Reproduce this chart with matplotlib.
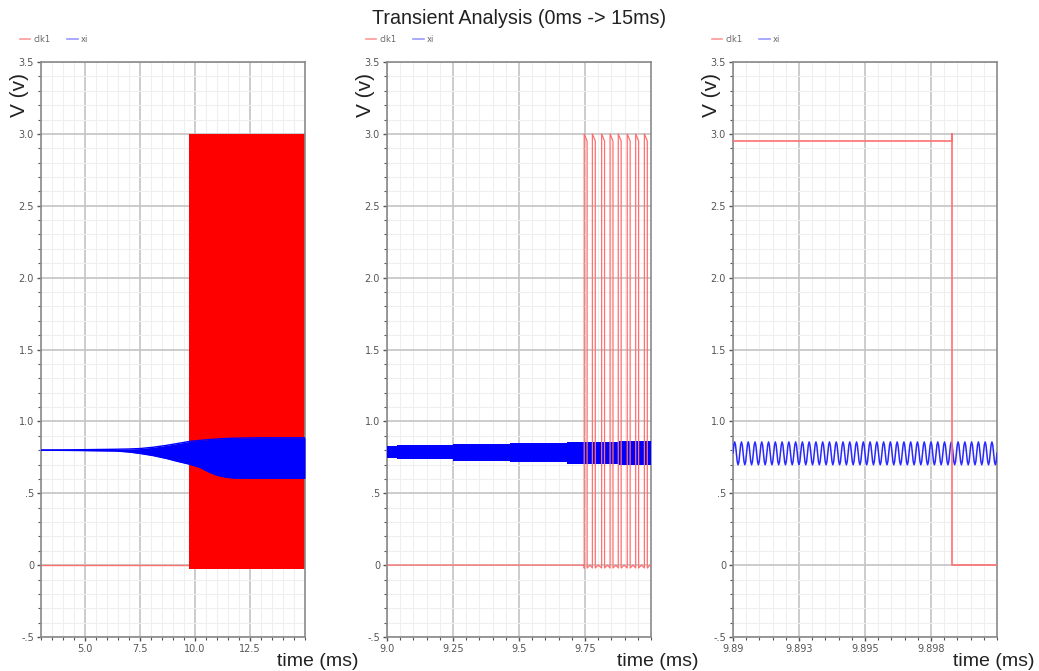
import numpy as np
import matplotlib.pyplot as plt
from matplotlib.ticker import FixedLocator, MultipleLocator

# ---- data ----
y_ticks = [-0.5, 0.0, 0.5, 1.0, 1.5, 2.0, 2.5, 3.0, 3.5]
y_labels = ['-.5', '0', '.5', '1.0', '1.5', '2.0', '2.5', '3.0', '3.5']

# panel 1 : 3 -> 15 ms
p1_xlim = (3.0, 15.0)
p1_ticks = [5.0, 7.5, 10.0, 12.5]
p1_labels = ['5.0', '7.5', '10.0', '12.5']
p1_clk_start = 9.73
p1_clk_hi = 3.0
p1_clk_lo = -0.025
p1_xi_t = [3.0, 4.9, 6.4, 7.0, 7.5, 8.1, 8.7, 9.2, 9.73, 10.23, 10.6, 10.98, 11.4, 11.74, 13.0, 15.0]
p1_xi_top = [0.800, 0.803, 0.806, 0.808, 0.811, 0.820, 0.833, 0.846, 0.860, 0.868, 0.873, 0.877, 0.881, 0.883, 0.886, 0.886]
p1_xi_bot = [0.800, 0.797, 0.794, 0.787, 0.777, 0.762, 0.742, 0.722, 0.703, 0.680, 0.650, 0.626, 0.612, 0.606, 0.604, 0.604]

# panel 2 : 9.0 -> 10.0 ms
p2_xlim = (9.0, 10.0)
p2_ticks = [9.0, 9.25, 9.5, 9.75]
p2_labels = ['9.0', '9.25', '9.5', '9.75']
p2_xi_t = [9.0, 9.037, 9.25, 9.465, 9.68, 9.88, 10.0]
p2_xi_top = [0.832, 0.838, 0.843, 0.849, 0.855, 0.861, 0.861]
p2_xi_bot = [0.742, 0.735, 0.727, 0.720, 0.705, 0.695, 0.695]
p2_pulse_rise = [9.747, 9.778, 9.813, 9.845, 9.876, 9.910, 9.942, 9.975]
p2_pulse_width = 0.011
p2_pulse_peak = 3.0
p2_pulse_top = 2.95
p2_pulse_low = -0.02

# panel 3 : 9.89 -> 9.90 ms
p3_xlim = (9.89, 9.90)
p3_ticks = [9.89, 9.8925, 9.895, 9.8975]
p3_labels = ['9.89', '9.893', '9.895', '9.898']
p3_clk_t = [9.89, 9.8983, 9.8983, 9.8983, 9.90]
p3_clk_v = [2.95, 2.95, 3.0, 0.0, 0.0]
p3_xi_cycle = [0.78, 0.835, 0.857, 0.835, 0.78, 0.72, 0.698, 0.72]
p3_xi_cycles = 39

red = '#ff0000'
red_line = '#ff7070'
blue = '#0000ff'
label_font = 'Liberation Sans'

fig = plt.figure(figsize=(10.39, 6.71), dpi=100)
fig.text(0.5, 0.973, 'Transient Analysis (0ms -> 15ms)', ha='center', va='center',
         fontsize=14.2, color='#222222', family=label_font)

lefts = [41, 387, 733]
xlabel_pos = [0.894, 0.871, 0.833]
axes = []
for l in lefts:
    ax = fig.add_axes([l / 1039, 1 - 637 / 671, 264 / 1039, 575 / 671])
    axes.append(ax)


def style(ax, xlim, ticks, labels, minor, xlab_x):
    ax.set_xlim(*xlim)
    ax.set_ylim(-0.5, 3.5)
    ax.xaxis.set_major_locator(FixedLocator(ticks))
    ax.set_xticklabels(labels)
    ax.xaxis.set_minor_locator(MultipleLocator(minor))
    ax.yaxis.set_major_locator(FixedLocator(y_ticks))
    ax.set_yticklabels(y_labels)
    ax.yaxis.set_minor_locator(MultipleLocator(0.1))
    ax.grid(which='major', color='#c4c4c4', lw=1.2, zorder=0)
    ax.grid(which='minor', color='#efefef', lw=0.8, zorder=0)
    ax.set_axisbelow(True)
    for s in ax.spines.values():
        s.set_color('#8a8a8a')
        s.set_linewidth(1.2)
    ax.tick_params(which='major', length=3, width=1, color='#555555',
                   labelsize=7, labelcolor='#555555', pad=2)
    ax.tick_params(which='minor', length=2, width=0.8, color='#555555')
    ax.text(-0.08, 0.943, 'V (v)', transform=ax.transAxes, rotation=90,
            ha='center', va='center', fontsize=15, color='#222222',
            family=label_font)
    ax.text(xlab_x, -0.042, 'time (ms)', transform=ax.transAxes,
            ha='left', va='center', fontsize=14, color='#222222',
            family=label_font)
    # legend above axes
    ax.plot([-0.08, -0.04], [1.04, 1.04], transform=ax.transAxes, color='#ff9a9a',
            lw=1.2, clip_on=False)
    ax.text(-0.03, 1.04, 'clk1', transform=ax.transAxes, fontsize=6,
            color='#666666', va='center')
    ax.plot([0.1, 0.14], [1.04, 1.04], transform=ax.transAxes, color='#9a9aff',
            lw=1.2, clip_on=False)
    ax.text(0.15, 1.04, 'xi', transform=ax.transAxes, fontsize=6,
            color='#666666', va='center')


# panel 1
ax = axes[0]
style(ax, p1_xlim, p1_ticks, p1_labels, 0.5, xlabel_pos[0])
ax.plot([p1_xlim[0], p1_clk_start], [0, 0], color=red_line, lw=1, zorder=2)
ax.fill_between([p1_clk_start, p1_xlim[1]], p1_clk_lo, p1_clk_hi, color=red,
                lw=0, zorder=2)
ax.fill_between(p1_xi_t, p1_xi_bot, p1_xi_top, color=blue, lw=0, zorder=3)
ax.plot(p1_xi_t, p1_xi_top, color=blue, lw=1, zorder=3)
ax.plot(p1_xi_t, p1_xi_bot, color=blue, lw=1, zorder=3)

# panel 2
ax = axes[1]
style(ax, p2_xlim, p2_ticks, p2_labels, 0.05, xlabel_pos[1])
ax.fill_between(p2_xi_t, p2_xi_bot, p2_xi_top, step='post', color=blue, lw=0,
                zorder=3)
xs = [p2_xlim[0], p2_pulse_rise[0]]
ys = [0.0, 0.0]
for r in p2_pulse_rise:
    xs += [r, r, r + p2_pulse_width, r + p2_pulse_width, r + p2_pulse_width * 2]
    ys += [p2_pulse_low, p2_pulse_peak, p2_pulse_top, p2_pulse_low, 0.0]
xs.append(p2_xlim[1])
ys.append(0.0)
ax.plot(xs, ys, color=red_line, lw=0.9, zorder=4)

# panel 3
ax = axes[2]
style(ax, p3_xlim, p3_ticks, p3_labels, 0.0005, xlabel_pos[2])
xi3 = np.tile(p3_xi_cycle, p3_xi_cycles)
xi3 = np.append(xi3, p3_xi_cycle[0])
t3 = np.linspace(p3_xlim[0], p3_xlim[1], len(xi3))
ax.plot(t3, xi3, color='#2828ff', lw=1.1, zorder=3)
ax.plot(p3_clk_t, p3_clk_v, color=red_line, lw=1.2, zorder=4)

fig.savefig('out.png', dpi=100)
